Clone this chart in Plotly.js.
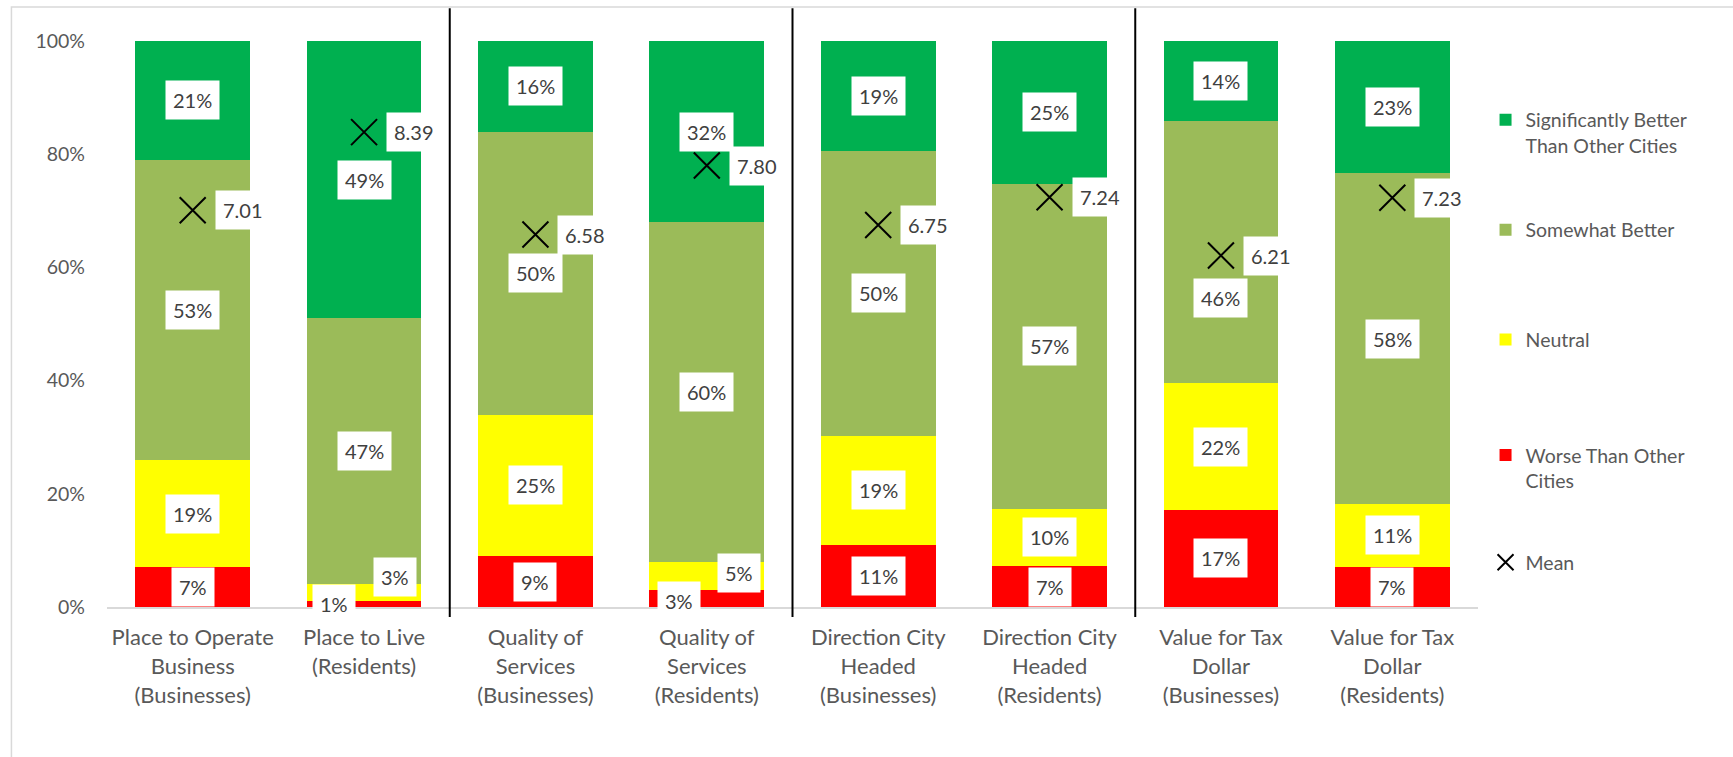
<!DOCTYPE html>
<html>
<head>
<meta charset="utf-8">
<script src="https://cdn.plot.ly/plotly-3.0.1.min.js"></script>
<style>
html,body{margin:0;padding:0;background:#fff;}
#chart{width:1733px;height:757px;}
</style>
</head>
<body>
<div id="chart"></div>
<script>
// ---- data ----
const categories = [
  "Place to Operate<br>Business<br>(Businesses)",
  "Place to Live<br>(Residents)",
  "Quality of<br>Services<br>(Businesses)",
  "Quality of<br>Services<br>(Residents)",
  "Direction City<br>Headed<br>(Businesses)",
  "Direction City<br>Headed<br>(Residents)",
  "Value for Tax<br>Dollar<br>(Businesses)",
  "Value for Tax<br>Dollar<br>(Residents)"
];
const worse         = [7, 1, 9, 3, 11.0, 7.2, 17.2, 7.1];
const neutral       = [19, 3, 25, 5, 19.2, 10.2, 22.3, 11.1];
const somewhat      = [53, 47, 50, 60, 50.4, 57.4, 46.4, 58.4];
const significantly = [21, 49, 16, 32, 19.4, 25.2, 14.1, 23.4];
const means         = [7.01, 8.39, 6.58, 7.80, 6.75, 7.24, 6.21, 7.23];
const yTickVals     = [0, 20, 40, 60, 80, 100];
const yTickText     = ["0%", "20%", "40%", "60%", "80%", "100%"];
const seriesNames   = ["Worse Than Other<br>Cities", "Neutral", "Somewhat Better", "Significantly Better<br>Than Other Cities"];
const meanName      = "Mean";

// ---- style ----
const FONT = "Lato, 'Noto Sans', sans-serif";
const colors = ["#FF0000", "#FFFF00", "#9BBB59", "#00B050"];
const legendIds = ["legend4", "legend3", "legend2", "legend"];
const legendY = {legend: 0.838, legend2: 0.666, legend3: 0.472, legend4: 0.246, legend5: 0.0786};
// manual nudges for crowded labels: [seriesIndex-categoryIndex] -> [xshift, yshift]
const labelNudge = {"0-1": [-30, 0], "1-1": [31, 16], "0-3": [-28, -2], "1-3": [32, 3], "2-6": [0, -46]};

const series = [worse, neutral, somewhat, significantly];

const traces = series.map((vals, i) => ({
  type: "bar",
  x: categories,
  y: vals,
  name: seriesNames[i],
  marker: {color: colors[i], line: {width: 0}},
  legend: legendIds[i],
  hoverinfo: "skip"
}));

traces.push({
  type: "scatter",
  mode: "markers",
  x: categories,
  y: means,
  yaxis: "y2",
  name: meanName,
  legend: "legend5",
  marker: {symbol: "x-thin", size: 26, color: "#000", line: {color: "#000", width: 2}},
  hoverinfo: "skip"
});

const annotations = [];
series.forEach((vals, si) => {
  vals.forEach((v, ci) => {
    let base = 0;
    for (let k = 0; k < si; k++) base += series[k][ci];
    const nudge = labelNudge[si + "-" + ci] || [0, 0];
    annotations.push({
      x: categories[ci], y: base + v / 2, xref: "x", yref: "y",
      text: Math.round(v) + "%", showarrow: false,
      font: {family: FONT, size: 20, color: "#404040"},
      bgcolor: "#FFFFFF", borderpad: 7,
      xshift: nudge[0], yshift: nudge[1]
    });
  });
});
means.forEach((m, ci) => {
  annotations.push({
    x: categories[ci], y: m, xref: "x", yref: "y2",
    text: m.toFixed(2), showarrow: false,
    font: {family: FONT, size: 20, color: "#404040"},
    bgcolor: "#FFFFFF", borderpad: 7,
    xanchor: "left", xshift: 22
  });
});

const shapes = [
  {type: "rect", xref: "paper", yref: "paper", x0: -0.0697, x1: 1.4, y0: -0.4, y1: 1.06,
   line: {color: "#D9D9D9", width: 1.5}, fillcolor: "rgba(0,0,0,0)", layer: "below"}
];
[1.5, 3.5, 5.5].forEach(xv => shapes.push({
  type: "line", xref: "x", yref: "paper", x0: xv, x1: xv, y0: -0.0177, y1: 1.058,
  line: {color: "#000", width: 2}
}));

function legendDef(y) {
  return {
    x: 1.0055, xanchor: "left", y: y, yanchor: "middle",
    bgcolor: "rgba(0,0,0,0)", valign: "top",
    font: {family: FONT, size: 19.5, color: "#595959"}
  };
}

const layout = {
  width: 1733, height: 757,
  margin: {l: 107, r: 255, t: 41, b: 150},
  paper_bgcolor: "#FFFFFF", plot_bgcolor: "#FFFFFF",
  barmode: "stack", bargap: 0.33,
  font: {family: FONT, size: 20, color: "#595959"},
  showlegend: true,
  xaxis: {
    type: "category", showgrid: false, zeroline: false,
    showline: true, linecolor: "#D9D9D9", linewidth: 2,
    ticks: "", tickfont: {family: FONT, size: 22, color: "#595959"},
    ticklabelstandoff: 10, fixedrange: true
  },
  yaxis: {
    range: [0, 100], tickvals: yTickVals, ticktext: yTickText,
    showgrid: false, zeroline: false, showline: false, ticks: "",
    tickfont: {family: FONT, size: 19.5, color: "#595959"},
    ticklabelstandoff: 21, fixedrange: true
  },
  yaxis2: {range: [0, 10], overlaying: "y", visible: false, fixedrange: true},
  legend: legendDef(legendY.legend),
  legend2: legendDef(legendY.legend2),
  legend3: legendDef(legendY.legend3),
  legend4: legendDef(legendY.legend4),
  legend5: legendDef(legendY.legend5),
  annotations: annotations,
  shapes: shapes
};

Plotly.newPlot("chart", traces, layout, {staticPlot: true, displayModeBar: false});
</script>
</body>
</html>
